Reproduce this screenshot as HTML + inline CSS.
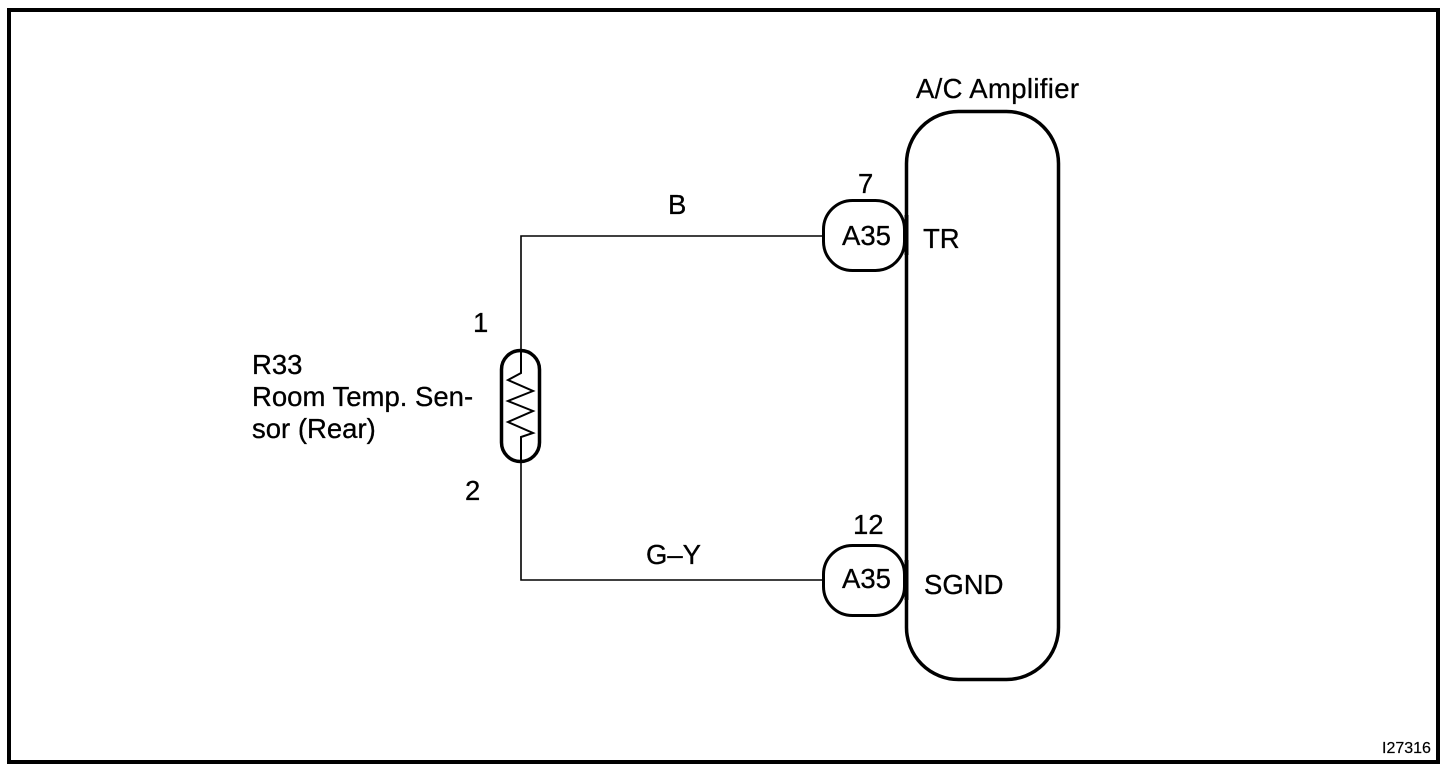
<!DOCTYPE html>
<html>
<head>
<meta charset="utf-8">
<style>
html,body{margin:0;padding:0;background:#fff;width:1456px;height:776px;overflow:hidden}
svg{display:block}
text{font-family:"Liberation Sans",sans-serif;fill:#000;stroke:#000;stroke-width:.3px;font-size:27.5px}
</style>
</head>
<body>
<svg width="1456" height="776" viewBox="0 0 1456 776" xmlns="http://www.w3.org/2000/svg">
<rect width="1456" height="776" fill="#fff"/>
<rect x="9" y="10" width="1429" height="752" fill="none" stroke="#000" stroke-width="4"/>

<!-- A/C Amplifier -->
<rect x="906.5" y="111.5" width="152" height="568" rx="52" ry="52" fill="none" stroke="#000" stroke-width="3.5"/>

<!-- Wires -->
<polyline points="823,236 521,236 521,350" fill="none" stroke="#000" stroke-width="1.6"/>
<polyline points="823,580 521,580 521,462" fill="none" stroke="#000" stroke-width="1.6"/>

<!-- Sensor -->
<rect x="501.5" y="350.5" width="38" height="111" rx="19" ry="19" fill="none" stroke="#000" stroke-width="3.5"/>
<polyline points="521,350 521,373 508,380 533,391 508,401 533,411 508,422 533,433 521,437 521,462" fill="none" stroke="#000" stroke-width="2"/>

<!-- Connectors -->
<rect x="823.5" y="200.5" width="81" height="70" rx="29" ry="29" fill="#fff" stroke="#000" stroke-width="3"/>
<rect x="823.5" y="545.5" width="81" height="70" rx="29" ry="29" fill="#fff" stroke="#000" stroke-width="3"/>
<line x1="906.5" y1="215" x2="906.5" y2="255" stroke="#000" stroke-width="4"/>
<line x1="906.5" y1="560" x2="906.5" y2="600" stroke="#000" stroke-width="4"/>

<!-- Labels -->
<text x="916" y="98" textLength="163" lengthAdjust="spacing">A/C Amplifier</text>
<text x="858" y="193">7</text>
<text x="853" y="534">12</text>
<text x="842" y="245">A35</text>
<text x="842" y="588">A35</text>
<text x="923" y="248">TR</text>
<text x="924" y="594">SGND</text>
<text x="668" y="214">B</text>
<text x="646" y="564">G–Y</text>
<text x="473" y="332">1</text>
<text x="465" y="500">2</text>
<text x="252" y="374">R33</text>
<text x="252" y="406">Room Temp. Sen-</text>
<text x="252" y="438">sor (Rear)</text>
<text x="1382" y="753" style="font-size:16px;stroke-width:.2px">I27316</text>
</svg>
</body>
</html>
